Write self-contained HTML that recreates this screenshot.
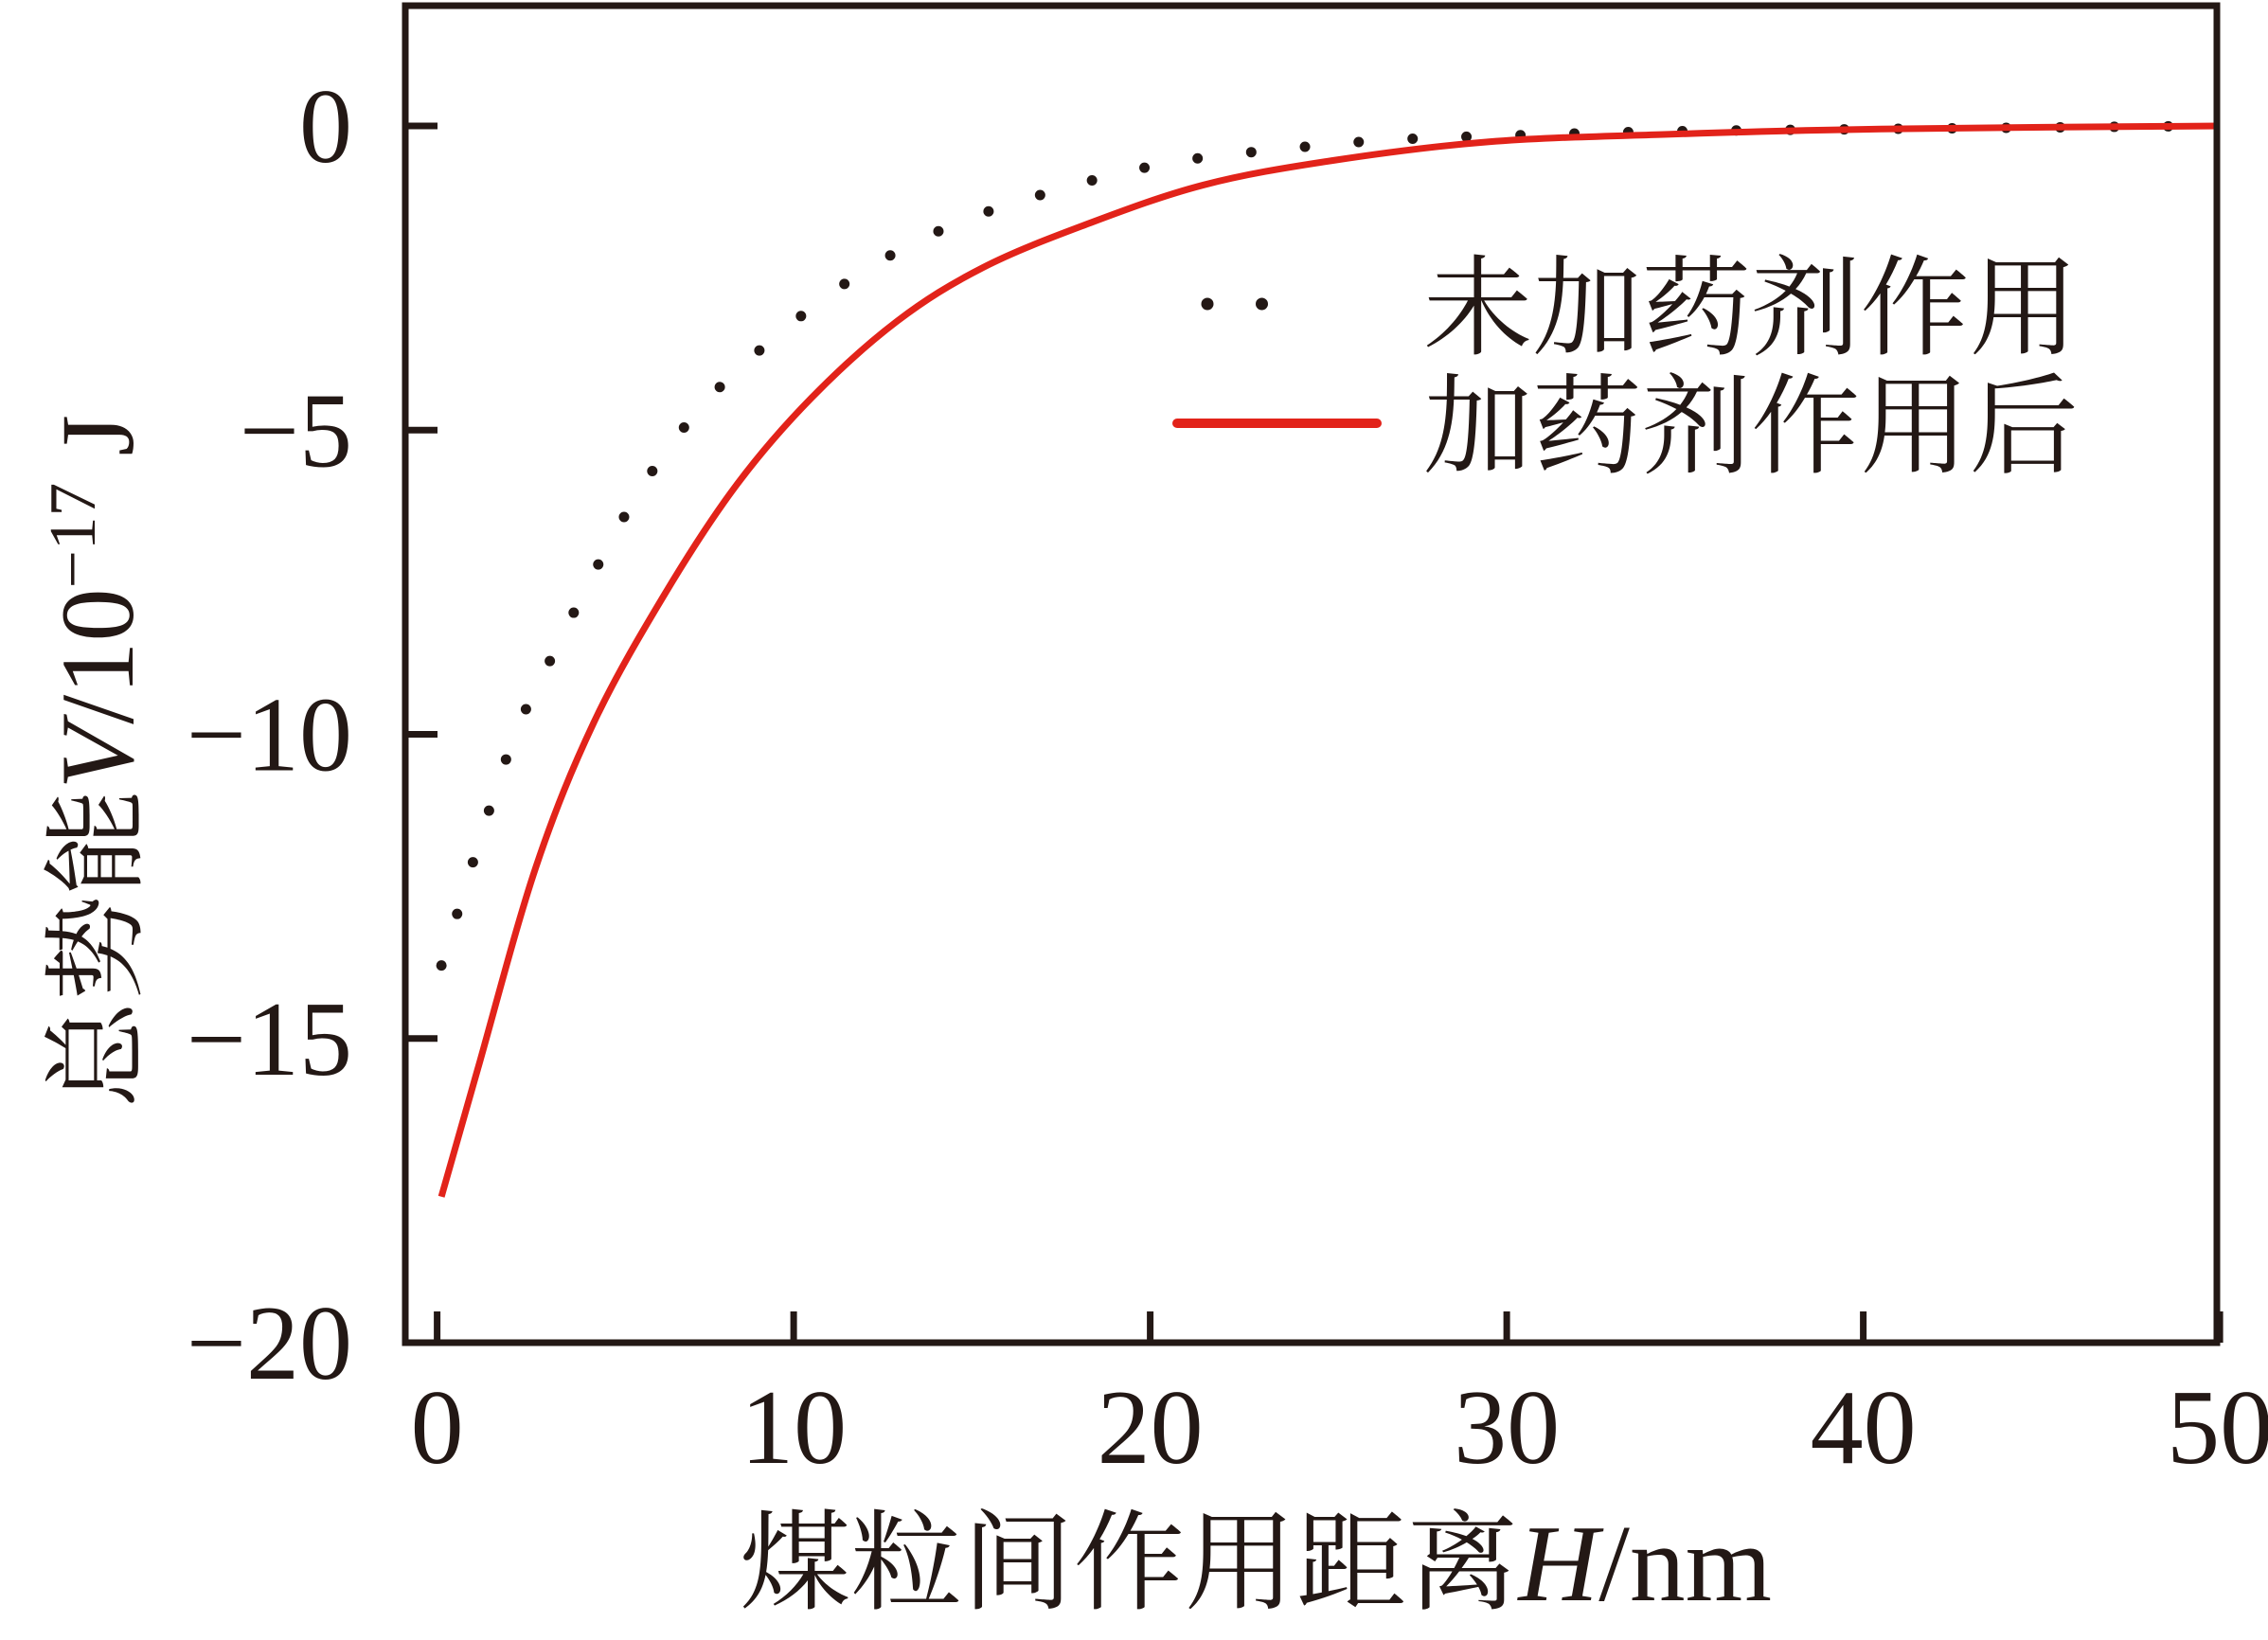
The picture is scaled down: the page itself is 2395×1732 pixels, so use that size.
<!DOCTYPE html>
<html><head><meta charset="utf-8"><style>
html,body{margin:0;padding:0;background:#fff;}
svg{display:block;}
text{fill:#231815;}
.tk{font-family:"Liberation Serif","Noto Serif CJK SC",serif;font-size:112px;}
.cj{font-family:"Liberation Serif","Noto Serif CJK SC",serif;}
</style></head><body>
<svg id="chart" width="2395" height="1732" viewBox="0 0 2395 1732" xmlns="http://www.w3.org/2000/svg">
<g id="plot"></g>
<rect x="428" y="6" width="1913" height="1412" fill="none" stroke="#231815" stroke-width="7"/>
<g>
<line x1="1275" y1="321" x2="1390" y2="321" stroke="#231815" stroke-width="13" stroke-linecap="round" stroke-dasharray="0 57.5"/>
<text class="cj" x="1503" y="365" font-size="115" textLength="692" lengthAdjust="spacingAndGlyphs">未加药剂作用</text>
<line x1="1243" y1="447" x2="1454" y2="447" stroke="#e2231a" stroke-width="10" stroke-linecap="round"/>
<text class="cj" x="1503" y="490" font-size="115" textLength="692" lengthAdjust="spacingAndGlyphs">加药剂作用后</text>
</g>
<text class="cj" font-size="110" transform="translate(140,804) rotate(-90)" text-anchor="middle" textLength="732" lengthAdjust="spacingAndGlyphs">总势能<tspan font-style="italic">V</tspan>/10<tspan font-size="70" dy="-40">−17</tspan><tspan dy="40"> J</tspan></text>
<text class="cj" font-size="115" x="1326" y="1690" text-anchor="middle" textLength="1090" lengthAdjust="spacingAndGlyphs">煤粒间作用距离<tspan font-style="italic">H</tspan>/nm</text>
</svg>
<script>
const xTicks = [0, 10, 20, 30, 40, 50];
const yTicks = [0, -5, -10, -15, -20];
const hUntreated = [0.12, 1.94, 3.2, 5.3, 7.1, 9.1, 11.8, 14.5, 17.6, 20.6, 23.7, 26.7, 29.9, 34.4, 40.5, 49.8];
const vUntreated = [-13.8, -10.4, -8.75, -6.37, -4.83, -3.66, -2.45, -1.62, -1.02, -0.6, -0.38, -0.23, -0.16, -0.09, -0.05, 0];
const hTreated = [0.12, 1.14, 2.76, 4.4, 6.4, 8.4, 10.5, 12.9, 15.3, 18.2, 21.5, 25.1, 29.5, 34.4, 40.5, 50];
const vTreated = [-17.6, -15.5, -12.2, -9.8, -7.68, -5.9, -4.47, -3.21, -2.33, -1.62, -0.97, -0.57, -0.26, -0.14, -0.05, 0];

const NS = 'http://www.w3.org/2000/svg';
const X = h => 461.6 + h * 37.65;
const Y = v => 133 - v * 64.25;
const g = document.getElementById('plot');
function mk(tag, attrs){const e=document.createElementNS(NS,tag);for(const k in attrs)e.setAttribute(k,attrs[k]);return e;}

xTicks.forEach(t=>{
  const l=mk('line',{x1:X(t),x2:X(t),y1:1418,y2:1385,stroke:'#231815','stroke-width':7});
  
  
  g.appendChild(l);
  const tx=mk('text',{x:X(t),y:1545,'text-anchor':'middle',class:'tk'});
  
  
  tx.textContent=t; g.appendChild(tx);
});
yTicks.forEach(t=>{
  const l=mk('line',{x1:428,x2:462,y1:Y(t),y2:Y(t),stroke:'#231815','stroke-width':7});
  
  
  g.appendChild(l);
  const tx=mk('text',{x:372,y:Y(t)+38,'text-anchor':'end',class:'tk'});
  
  
  tx.textContent=t<0?'−'+Math.abs(t):t; g.appendChild(tx);
});
function pathD(hs,vs){
  const p=hs.map((h,i)=>[X(h),Y(vs[i])]);
  let d='M'+p[0][0]+','+p[0][1];
  for(let i=0;i<p.length-1;i++){
    const p0=p[i-1]||p[i],p1=p[i],p2=p[i+1],p3=p[i+2]||p2;
    d+=' C'+(p1[0]+(p2[0]-p0[0])/6)+','+(p1[1]+(p2[1]-p0[1])/6)+' '+(p2[0]-(p3[0]-p1[0])/6)+','+(p2[1]-(p3[1]-p1[1])/6)+' '+p2[0]+','+p2[1];
  }
  return d;
}
const s1=mk('path',{d:pathD(hUntreated,vUntreated),fill:'none',stroke:'#231815','stroke-width':11,'stroke-linecap':'round','stroke-dasharray':'0 57'});


g.appendChild(s1);
const s2=mk('path',{d:pathD(hTreated,vTreated),fill:'none',stroke:'#e2231a','stroke-width':7});


g.appendChild(s2);
</script>
</body></html>
